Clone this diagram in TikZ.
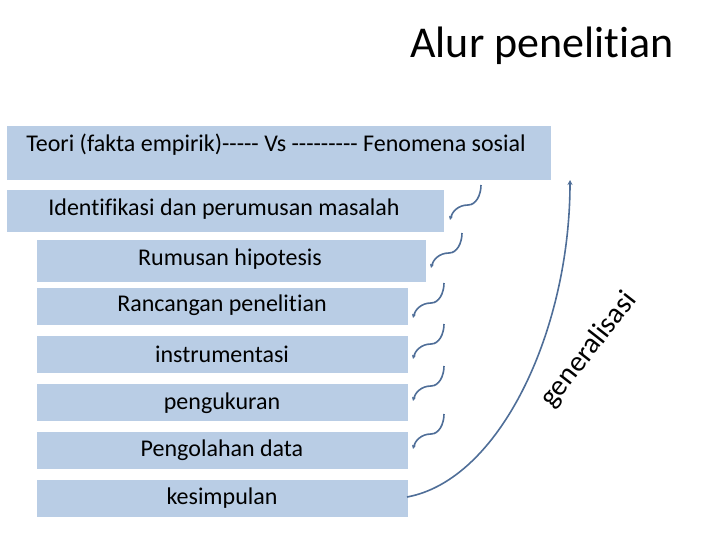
\documentclass[tikz,border=0pt]{standalone}
\usepackage{fontspec}
\setmainfont{Carlito}[Ligatures={TeXOff,CommonOff}]
\usetikzlibrary{arrows.meta}
\definecolor{boxfill}{HTML}{B9CDE5}
\definecolor{arc}{HTML}{4F6E98}
\tikzset{
  box/.style={fill=boxfill, draw=none, inner sep=0pt, anchor=north west},
  lbl/.style={font=\fontsize{24}{28}\selectfont, inner sep=0pt},
  sq/.style={draw=arc, line width=1.6pt, -{Stealth[length=4pt,width=4pt]}},
  bigarc/.style={draw=arc, line width=1.6pt, -{Stealth[length=5pt,width=5pt]}}
}
\begin{document}
\begin{tikzpicture}[x=1pt,y=-1pt]
\useasboundingbox (0,0) rectangle (720,540);
% title
\node[font=\fontsize{44}{52}\selectfont, inner sep=0pt] (title) at (542,46) {Alur penelitian};
% boxes
\node[box, minimum width=544, minimum height=54] (b1) at (7,126) {};
\node[lbl] (t1) at (276,145) {Teori (fakta empirik)----- Vs --------- Fenomena sosial};
\node[box, minimum width=437, minimum height=42] (b2) at (7,190) {};
\node[lbl] (t2) at (224,209) {Identifikasi dan perumusan masalah};
\node[box, minimum width=389, minimum height=42] (b3) at (37,240) {};
\node[lbl] (t3) at (230,259) {Rumusan hipotesis};
\node[box, minimum width=371, minimum height=37] (b4) at (37,288) {};
\node[lbl] (t4) at (222,305) {Rancangan penelitian};
\node[box, minimum width=371, minimum height=37] (b5) at (37,336) {};
\node[lbl] (t5) at (222,354) {instrumentasi};
\node[box, minimum width=371, minimum height=37] (b6) at (37,384) {};
\node[lbl] (t6) at (222,403) {pengukuran};
\node[box, minimum width=371, minimum height=37] (b7) at (37,432) {};
\node[lbl] (t7) at (222,450) {Pengolahan data};
\node[box, minimum width=371, minimum height=37] (b8) at (37,480) {};
\node[lbl] (t8) at (222,498) {kesimpulan};
% squiggles
\coordinate (s1) at (481,185);
\coordinate (s2) at (462,233);
\coordinate (s3) at (444,283);
\coordinate (s4) at (444,324);
\coordinate (s5) at (444,366);
\coordinate (s6) at (444,414);
\foreach \s in {s1,s2,s3,s4,s5,s6}{
  \draw[sq] (\s) .. controls +(0,10) and +(8,0) .. ++(-13,20)
        .. controls +(-10,0) and +(2,-8) .. ++(-18,15);
}
% big arc
\coordinate (a0) at (407,497);
\coordinate (a1) at (570,180);
\draw[bigarc] (a0) .. controls (500,480) and (570,330) .. (a1);
\node[font=\fontsize{29}{34}\selectfont, rotate=52, inner sep=0pt] (gen) at (589,350) {generalisasi};
\end{tikzpicture}
\end{document}
